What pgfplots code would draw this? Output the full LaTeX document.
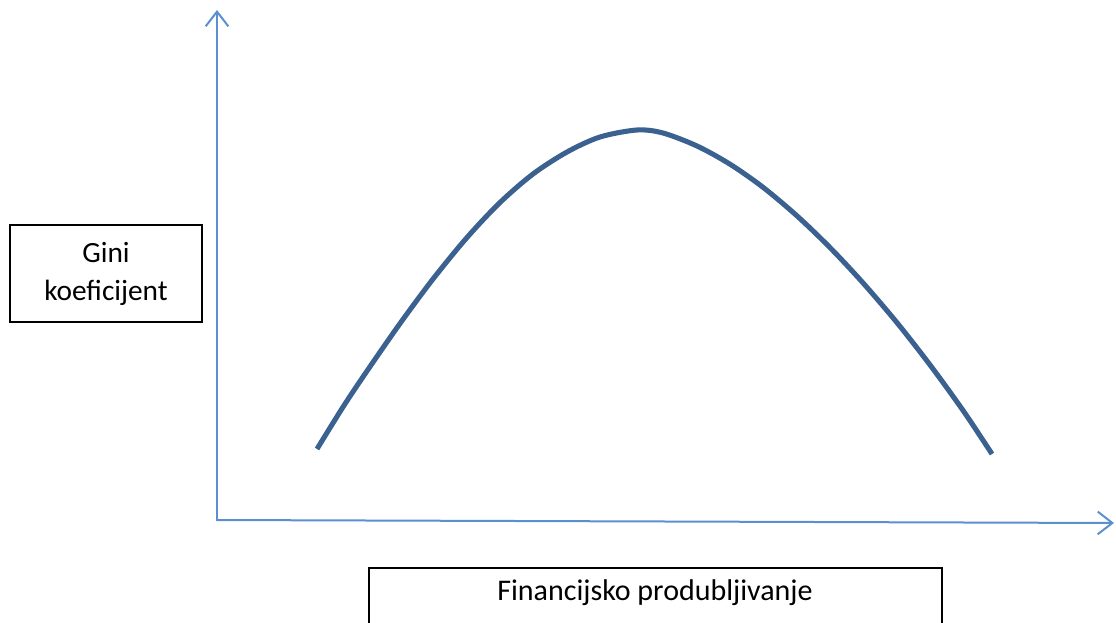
\documentclass[border=0pt]{standalone}
\usepackage{pgfplots}
\pgfplotsset{compat=1.18}
\usepackage{fontspec}
\setmainfont{Carlito}
\usetikzlibrary{arrows.meta}
\definecolor{curveblue}{HTML}{3B6190}
\definecolor{axisblue}{HTML}{5B8FD0}
\begin{document}
\begin{tikzpicture}
\begin{axis}[
  width=837pt, height=467.25pt, scale only axis,
  xmin=0, xmax=1116, ymin=0, ymax=623, y dir=reverse,
  hide axis, clip=false,
]
% axes
\addplot[axisblue, line width=1.5pt, -{Straight Barb[length=11pt,width=17pt,line width=1.5pt]}]
  coordinates {(217,521) (217,10)};
\addplot[axisblue, line width=1.5pt, -{Straight Barb[length=11pt,width=17pt,line width=1.5pt]}]
  coordinates {(217,520) (1114,523)};
% curve
\addplot[curveblue, line width=3.8pt, smooth, line cap=butt] coordinates {
(317,449) (343,407) (367,371) (400,323.5) (433,279) (467,237.5) (500,202.5)
(533,174) (567,152) (600,137) (637,130) (663,133) (697,146) (730,164.2)
(763,187.3) (797,215.9) (830,247.6) (863,282.9) (897,322.7) (930,364.9)
(963,410.4) (992,454)
};
% boxes
\draw[black, line width=1.1pt] (axis cs:10,225) rectangle (axis cs:202,322);
\node[font=\fontsize{22}{28}\selectfont, align=center] at (axis cs:106,274) {Gini\\koeficijent};
\draw[black, line width=1.1pt] (axis cs:369,640) -- (axis cs:369,568) -- (axis cs:942,568) -- (axis cs:942,640);
\node[font=\fontsize{22.5}{26}\selectfont] at (axis cs:655,593) {Financijsko produbljivanje};
\end{axis}
\pgfresetboundingbox
\path (current axis.south west) rectangle (current axis.north east);
\end{tikzpicture}
\end{document}
